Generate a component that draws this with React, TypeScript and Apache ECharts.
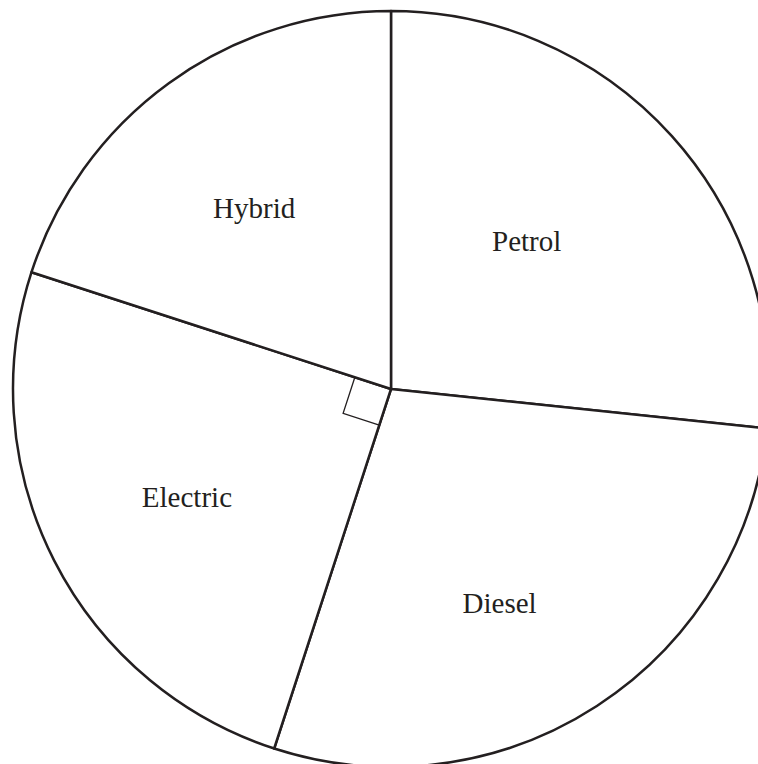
import React, { useEffect, useRef } from "react";
import * as echarts from "echarts";

const categories = ["Petrol", "Diesel", "Electric", "Hybrid"];
const degrees = [96, 102, 90, 72];

const W = 758;
const H = 764;
const CX = 391;
const CY = 389;
const R = 378;
const INK = "#231f20";
const labelOffsets: [number, number][] = [
  [-7, -20],
  [4, 53],
  [-33, 21],
  [-24, -26],
];

export default function App() {
  const ref = useRef<HTMLDivElement>(null);
  useEffect(() => {
    if (!ref.current) return;
    const chart = echarts.init(ref.current, null, { renderer: "svg", width: W, height: H });
    // right-angle marker on the 90° sector (Electric)
    const idx = categories.indexOf("Electric");
    let start = 0;
    for (let i = 0; i < idx; i++) start += degrees[i];
    const end = start + degrees[idx];
    const dir = (a: number) => [Math.sin((a * Math.PI) / 180), -Math.cos((a * Math.PI) / 180)];
    const s = 38;
    const u1 = dir(start);
    const u2 = dir(end);
    const markerPts = [
      [CX + s * u1[0], CY + s * u1[1]],
      [CX + s * (u1[0] + u2[0]), CY + s * (u1[1] + u2[1])],
      [CX + s * u2[0], CY + s * u2[1]],
    ];
    chart.setOption({
      animation: false,
      backgroundColor: "#ffffff",
      series: [
        {
          type: "pie",
          center: [CX, CY],
          radius: [0, R],
          startAngle: 90,
          clockwise: true,
          avoidLabelOverlap: false,
          silent: true,
          itemStyle: { color: "#ffffff", borderColor: INK, borderWidth: 2.5 },
          label: {
            show: true,
            position: "inside",
            color: INK,
            fontFamily: "Liberation Serif",
            fontSize: 29,
            formatter: "{b}",
          },
          labelLine: { show: false },
          emphasis: { disabled: true },
          data: categories.map((name, i) => ({
            name,
            value: degrees[i],
            label: { offset: labelOffsets[i] },
          })),
        },
      ],
      graphic: [
        {
          type: "polyline",
          shape: { points: markerPts },
          style: { stroke: INK, lineWidth: 1.3, fill: null },
          z: 10,
        },
      ],
    });
    return () => chart.dispose();
  }, []);
  return (
    <div
      ref={ref}
      style={{ position: "fixed", left: 0, top: 0, width: W, height: H }}
    />
  );
}
